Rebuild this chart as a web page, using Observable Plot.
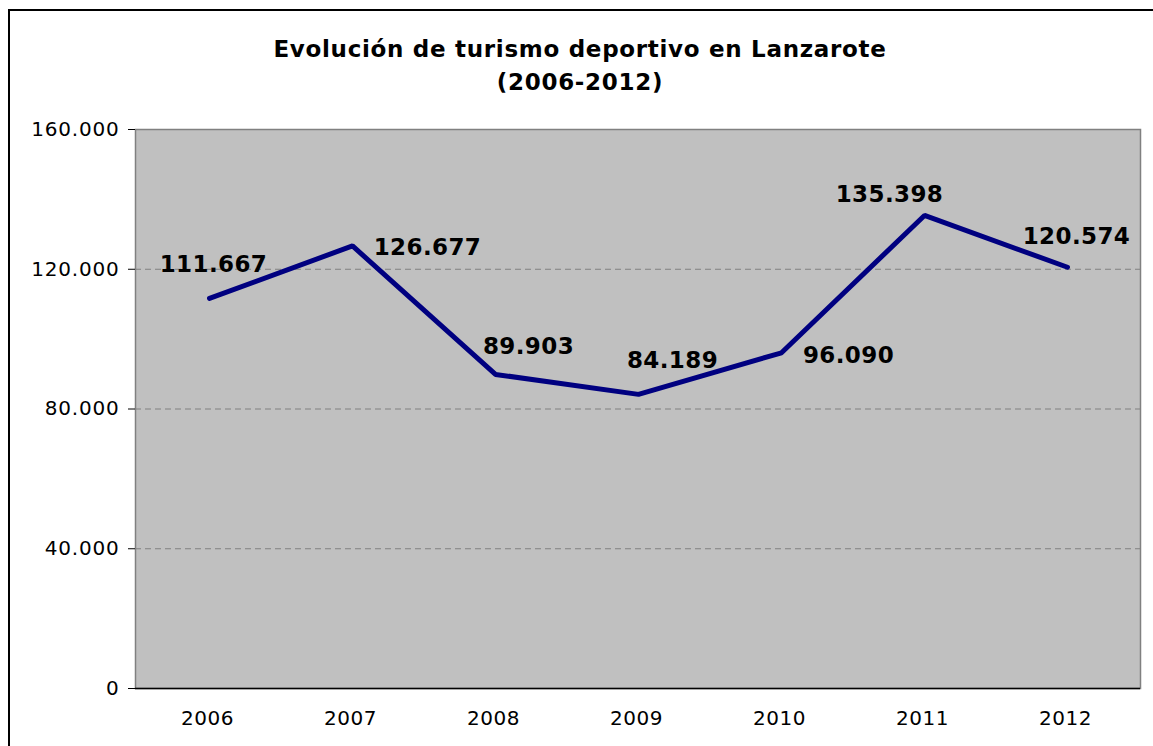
<!DOCTYPE html>
<html>
<head>
<meta charset="utf-8">
<script src="https://cdn.jsdelivr.net/npm/d3@7"></script>
<script src="https://cdn.jsdelivr.net/npm/@observablehq/plot@0.6"></script>
<style>
  html, body { margin: 0; padding: 0; background: #fff; overflow: hidden; }
  #wrap { position: relative; width: 1153px; height: 746px; overflow: hidden; font-family: "DejaVu Sans", Verdana, sans-serif; }
  #border { position: absolute; left: 8px; top: 9px; width: 1200px; height: 800px; border: 2px solid #000; box-sizing: border-box; }
  #title { position: absolute; left: 0; top: 0; width: 1160px; height: 110px; text-align: center; font-weight: bold; font-size: 23px; line-height: 33px; padding-top: 33px; box-sizing: border-box; color: #000; letter-spacing: 0.7px; }
  #chart { position: absolute; left: 0; top: 110px; }
  #chart g[aria-label="y-axis tick label"] text { letter-spacing: 0.8px; }
  #chart g[aria-label="x-axis tick label"] text { letter-spacing: 0.5px; }
  #chart g[aria-label="text"] text { letter-spacing: 0.4px; }
</style>
</head>
<body>
<div id="wrap">
  <div id="border"></div>
  <div id="title">Evolución de turismo deportivo en Lanzarote<br>(2006-2012)</div>
  <div id="chart"></div>
</div>
<script>
const years = ["2006", "2007", "2008", "2009", "2010", "2011", "2012"];
const visitors = [111667, 126677, 89903, 84189, 96090, 135398, 120574];
const yTicks = [0, 40000, 80000, 120000, 160000];
const gridTicks = [40000, 80000, 120000];

const data = years.map((year, i) => ({year, value: visitors[i]}));
const locale = d3.formatLocale({decimal: ",", thousands: ".", grouping: [3]});
const fmtThousands = locale.format(",");
const fmt = v => v === 0 ? "0" : fmtThousands(v);

// label offsets (px) relative to each point: [dx, dy]
const labelOffsets = [[4, -26], [75, 9], [33, -20], [34, -26], [67, 10], [-35, -13], [9, -23]];

const plot = Plot.plot({
  width: 1153,
  height: 636,
  marginLeft: 135,
  marginRight: 13,
  marginTop: 19,
  marginBottom: 58,
  style: {fontFamily: "'DejaVu Sans', Verdana, sans-serif", background: "transparent", overflow: "visible"},
  x: {type: "point", domain: years, padding: 0.5, label: null},
  y: {domain: [0, 160000], label: null},
  marks: [
    Plot.frame({fill: "#c0c0c0", stroke: "#808080", strokeWidth: 1.5}),
    Plot.ruleY(gridTicks, {stroke: "#808080", strokeDasharray: "6,4", strokeWidth: 1}),
    Plot.axisY({ticks: yTicks, tickFormat: fmt, tickSize: 7, tickPadding: 9, fontSize: 20, stroke: "#000", strokeOpacity: 1, fill: "#000", label: null}),
    Plot.axisX({tickSize: 0, tickPadding: 22, fontSize: 20, fill: "#000", label: null, dx: -2}),
    Plot.ruleX([0], {frameAnchor: "left", stroke: "#000", strokeWidth: 1.5}),
    Plot.ruleY([0], {stroke: "#000", strokeWidth: 1.5}),
    Plot.line(data, {x: "year", y: "value", stroke: "#000080", strokeWidth: 5, strokeLinejoin: "miter", strokeLinecap: "round"}),
    ...data.map((d, i) => Plot.text([d], {
      x: "year", y: "value", text: r => fmt(r.value),
      dx: labelOffsets[i][0], dy: labelOffsets[i][1],
      textAnchor: "middle", lineAnchor: "bottom",
      fontSize: 23, fontWeight: "bold", fill: "#000"
    }))
  ]
});
document.getElementById("chart").appendChild(plot);
</script>
</body>
</html>
